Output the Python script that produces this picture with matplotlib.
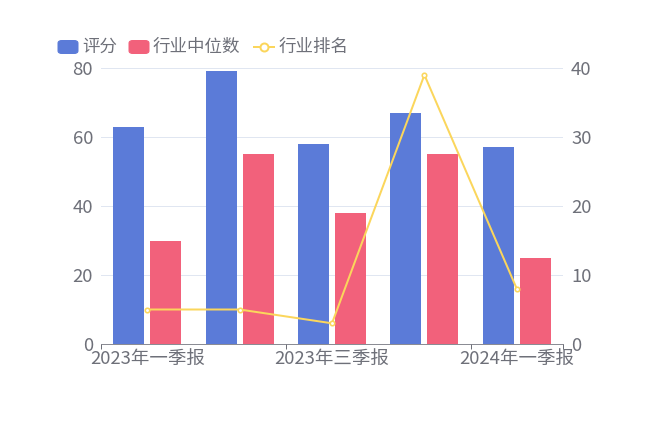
import matplotlib
matplotlib.use("Agg")
import matplotlib.pyplot as plt
from matplotlib.patches import FancyBboxPatch
from matplotlib.lines import Line2D
import numpy as np

plt.rcParams["font.family"] = ["Noto Sans CJK SC", "DejaVu Sans"]

categories = ["2023年一季报", "2023年中报", "2023年三季报", "2023年年报", "2024年一季报"]
score = [63, 79, 58, 67, 57]
industry_median = [30, 55, 38, 55, 25]
industry_rank = [5, 5, 3, 39, 8]

blue = "#5b7bd8"
red = "#f2617b"
yellow = "#fbd65c"
axis_gray = "#6e7079"
grid_gray = "#e0e6f1"

fig = plt.figure(figsize=(9, 6), dpi=72)
ax = fig.add_axes([101 / 648, 88 / 432, 462 / 648, 276 / 432])
ax2 = ax.twinx()

x = np.arange(len(categories))
bw = 0.335
gap = 0.065
ax.bar(x - (bw + gap) / 2, score, width=bw, color=blue, zorder=2)
ax.bar(x + (bw + gap) / 2, industry_median, width=bw, color=red, zorder=2)
ax2.plot(x, industry_rank, color=yellow, lw=2, marker="o", ms=4.5,
         mfc="white", mec=yellow, mew=1.6, zorder=3)

ax.set_xlim(-0.5, len(categories) - 0.5)
ax.set_ylim(0, 80)
ax.set_yticks([0, 20, 40, 60, 80])
ax2.set_ylim(0, 40)
ax2.set_yticks([0, 10, 20, 30, 40])

ax.grid(axis="y", color=grid_gray, lw=1, zorder=0)
for a in (ax, ax2):
    for s in a.spines.values():
        s.set_visible(False)
ax.spines["bottom"].set_visible(True)
ax.spines["bottom"].set_color(axis_gray)

# category labels every other one, ticks on band boundaries
ax.set_xticks(x[::2])
ax.set_xticklabels(categories[::2])
ax.tick_params(axis="x", length=0, labelsize=18.5, colors=axis_gray, pad=6)
ax.set_xticks([-0.5, 1.5, 3.5, 4.5], minor=True)
ax.tick_params(axis="x", which="minor", length=5, color=axis_gray, width=1)
ax.tick_params(axis="y", length=0, labelsize=18.5, colors=axis_gray, pad=8)
ax2.tick_params(axis="y", length=0, labelsize=18.5, colors=axis_gray, pad=8)
ax.set_axisbelow(True)

# legend
ly = 1 - 47 / 432


def box(x0, color):
    fig.patches.append(FancyBboxPatch((x0 / 648, ly - 6.5 / 432), 20 / 648, 13 / 432,
                                      boxstyle="round,pad=0,rounding_size=0.006",
                                      transform=fig.transFigure, color=color))


box(58, blue)
fig.text(82 / 648, ly, "评分", fontsize=17.5, color=axis_gray, va="center")
box(129, red)
fig.text(153 / 648, ly, "行业中位数", fontsize=17.5, color=axis_gray, va="center")
fig.lines.append(Line2D([254 / 648, 274 / 648], [ly] * 2, transform=fig.transFigure,
                        color=yellow, lw=2))
fig.lines.append(Line2D([264 / 648], [ly], transform=fig.transFigure, color=yellow,
                        marker="o", ms=8, mfc="white", mec=yellow, mew=2))
fig.text(279 / 648, ly, "行业排名", fontsize=17.5, color=axis_gray, va="center")

fig.savefig("out.png", dpi=72)
